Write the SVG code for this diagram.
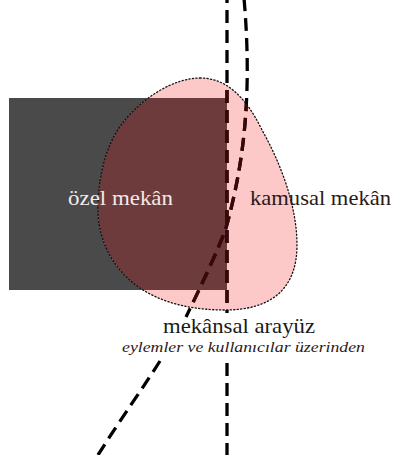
<svg xmlns="http://www.w3.org/2000/svg" width="396" height="455" viewBox="0 0 396 455">
  <style>
    .lbl { font-family: "Liberation Serif", "Times New Roman", serif; font-size: 21px; }
    .sub { font-family: "Liberation Serif", "Times New Roman", serif; font-size: 14.5px; font-style: italic; fill: #2a2020; }
    .dash { fill: none; stroke: #000; stroke-width: 3.3; stroke-dasharray: 13 7; }
    .dash-in { fill: none; stroke: #3a0808; stroke-width: 3.3; stroke-dasharray: 13 7; }
    .outline { fill: none; stroke: #111; stroke-width: 1.3; stroke-dasharray: 1.2 2.3; stroke-linecap: round; }
  </style>
  <defs>
    <path id="blobShape" d="M200,78 C225,78 245,95 262,130 C280,162 297,205 297,245 C297,290 270,310 225,310 C185,310 145,300 120,270 C103,250 97,225 98,205 C99,170 108,140 125,120 C145,96 175,78 200,78 Z"/>
    <clipPath id="rectClip"><rect x="9" y="98" width="218" height="192"/></clipPath>
    <clipPath id="blobClip"><use href="#blobShape"/></clipPath>
  </defs>
  <rect width="396" height="455" fill="#fff"/>

  <g id="ozel-mekan-area">
    <rect x="9" y="98" width="218" height="192" fill="#4a4a4a"/>
  </g>

  <g id="kamusal-mekan-area">
    <use href="#blobShape" fill="#fdc8c8"/>
    <use href="#blobShape" fill="#6d3b3b" clip-path="url(#rectClip)"/>
  </g>

  <g id="connectors">
    <path class="dash" d="M227,-10 L227,313"/>
    <path class="dash" d="M227,363 L227,460"/>
    <path class="dash" d="M244,-2 C252,90 245,160 226,228 C217,253 199,290 186,317"/>
    <path class="dash" d="M160,361 C145,385 120,420 98,455"/>
    <g clip-path="url(#blobClip)">
      <path class="dash-in" d="M227,-10 L227,313"/>
      <path class="dash-in" d="M244,-2 C252,90 245,160 226,228 C217,253 199,290 186,317"/>
    </g>
  </g>

  <g id="blob-outline">
    <use href="#blobShape" class="outline"/>
  </g>

  <g id="ozel-mekan">
    <text class="lbl" x="68" y="205" fill="#f2eaea" textLength="105" lengthAdjust="spacingAndGlyphs">özel mekân</text>
  </g>
  <g id="kamusal-mekan">
    <text class="lbl" x="250" y="205" fill="#2b1818" textLength="141" lengthAdjust="spacingAndGlyphs">kamusal mekân</text>
  </g>
  <g id="mekansal-arayuz">
    <text class="lbl" x="163" y="333" fill="#1a1a1a" textLength="152" lengthAdjust="spacingAndGlyphs">mekânsal arayüz</text>
    <text class="sub" x="122" y="352" textLength="243" lengthAdjust="spacingAndGlyphs">eylemler ve kullanıcılar üzerinden</text>
  </g>
</svg>
